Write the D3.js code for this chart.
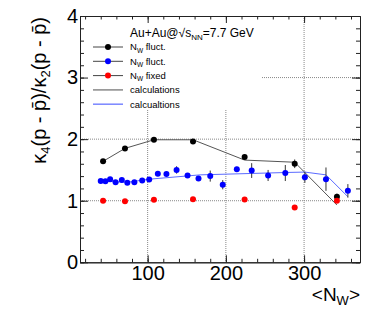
<!DOCTYPE html>
<html>
<head>
<meta charset="utf-8">
<script src="https://cdn.jsdelivr.net/npm/d3@7"></script>
<style>
  body { margin: 0; background: #fff; }
  text { font-family: "Liberation Sans", Arial, sans-serif; fill: #000; }
</style>
</head>
<body>
<div id="okvir"></div>
<script>
// 1. Podaci (ocitano sa slike)

const xTickovi = [100, 200, 300]
const yTickovi = [0, 1, 2, 3, 4]

// N_W fluct. (crni)
const crniN = [43, 71, 108, 158, 224, 288, 342]
const crniK = [1.64, 1.85, 1.99, 1.96, 1.71, 1.60, 1.065]
const crniErr = [0.02, 0.02, 0.02, 0.02, 0.03, 0.07, 0.05]

// N_W fluct. (plavi)
const plaviN = [40, 46, 52, 59, 67, 74, 83, 93, 102, 113, 124, 137, 151, 165, 180, 196, 214, 233, 254, 276, 301, 328, 356]
const plaviK = [1.32, 1.315, 1.35, 1.30, 1.335, 1.29, 1.30, 1.33, 1.345, 1.44, 1.435, 1.50, 1.41, 1.36, 1.40, 1.26, 1.51, 1.49, 1.41, 1.45, 1.38, 1.35, 1.16]
const plaviErr = [0.02, 0.02, 0.02, 0.02, 0.02, 0.02, 0.02, 0.02, 0.02, 0.03, 0.03, 0.06, 0.03, 0.04, 0.09, 0.075, 0.04, 0.12, 0.09, 0.13, 0.09, 0.19, 0.11]

// N_W fixed (crveni)
const crveniN = [43, 71, 108, 158, 224, 288, 342]
const crveniK = [1.0, 0.99, 1.015, 1.025, 1.02, 0.89, 1.0]

// calculations
const racunCrniN = [43, 71, 108, 158, 224, 288, 342]
const racunCrniK = [1.64, 1.85, 1.99, 1.99, 1.66, 1.625, 0.93]
const racunPlaviN = [40, 74, 102, 167, 282, 301, 328, 356]
const racunPlaviK = [1.32, 1.30, 1.35, 1.42, 1.46, 1.465, 1.42, 1.065]

const legendaNaslov = "Au+Au@"
const legendaOznake = ["fluct.", "fluct.", "fixed", "calculations", "calcualtions"]

// 2. Dimenzije

const dimenzije = {
  sirina: 374,
  visina: 317,
  lijevo: 80,
  desno: 360,
  gore: 16,
  dolje: 262.3,
}

const okvir = d3.select("#okvir")
  .append("svg")
    .attr("width", dimenzije.sirina)
    .attr("height", dimenzije.visina)

// 3. Skale

const xSkala = d3.scaleLinear()
  .domain([13.5, 371.5])
  .range([dimenzije.lijevo, dimenzije.desno])

const ySkala = d3.scaleLinear()
  .domain([0, 4])
  .range([dimenzije.dolje, dimenzije.gore])

// 4. Mreza (tockasta)

const mreza = okvir.append("g")
  .attr("stroke", "#888")
  .attr("stroke-width", 1)
  .attr("stroke-dasharray", "1,1")

mreza.selectAll(".hor")
  .data([1, 2, 3])
  .join("line")
    .attr("x1", dimenzije.lijevo)
    .attr("x2", dimenzije.desno)
    .attr("y1", d => ySkala(d))
    .attr("y2", d => ySkala(d))

mreza.selectAll(".ver")
  .data(xTickovi)
  .join("line")
    .attr("x1", d => xSkala(d))
    .attr("x2", d => xSkala(d))
    .attr("y1", dimenzije.gore)
    .attr("y2", dimenzije.dolje)

// legenda prekriva mrezu
okvir.append("rect")
  .attr("x", dimenzije.lijevo + 1)
  .attr("y", dimenzije.gore + 1)
  .attr("width", 181)
  .attr("height", 93)
  .attr("fill", "#fff")

// 5. Linije racuna

const generatorLinije = d3.line()
  .x(d => xSkala(d[0]))
  .y(d => ySkala(d[1]))

okvir.append("path")
  .attr("d", generatorLinije(d3.zip(racunCrniN, racunCrniK)))
  .attr("fill", "none")
  .attr("stroke", "#555")
  .attr("stroke-width", 1)

okvir.append("path")
  .attr("d", generatorLinije(d3.zip(racunPlaviN, racunPlaviK)))
  .attr("fill", "none")
  .attr("stroke", "#5b6bff")
  .attr("stroke-width", 1)

// 6. Tocke s greskama

function crtajSeriju(nizN, nizK, nizErr, boja) {
  const podaci = nizN.map((n, i) => ({ n, k: nizK[i], e: nizErr ? nizErr[i] : 0 }))
  const g = okvir.append("g")
  g.selectAll("line")
    .data(podaci.filter(d => d.e > 0))
    .join("line")
      .attr("x1", d => xSkala(d.n))
      .attr("x2", d => xSkala(d.n))
      .attr("y1", d => ySkala(d.k - d.e))
      .attr("y2", d => ySkala(d.k + d.e))
      .attr("stroke", "#333")
      .attr("stroke-width", 1)
  g.selectAll("circle")
    .data(podaci)
    .join("circle")
      .attr("cx", d => xSkala(d.n))
      .attr("cy", d => ySkala(d.k))
      .attr("r", 3)
      .attr("fill", boja)
}

crtajSeriju(crniN, crniK, crniErr, "#000")
crtajSeriju(plaviN, plaviK, plaviErr, "#0000ff")
crtajSeriju(crveniN, crveniK, null, "#ff0000")

// 7. Osi (ticks prema unutra)

function stilOsi(g) {
  g.selectAll("path, line").attr("stroke", "#222")
  g.selectAll("text")
    .attr("font-family", "Liberation Sans, Arial, sans-serif")
    .attr("font-size", 20)
    .attr("fill", "#000")
}

const manjiX = d3.range(20, 371, 20)
const manjiY = d3.range(0, 4.001, 0.2)
const cijeli = d3.format("d")

okvir.append("g")
  .attr("transform", `translate(0,${dimenzije.dolje})`)
  .call(d3.axisBottom(xSkala).tickValues(manjiX).tickSize(-3.5).tickSizeOuter(0).tickFormat(""))
  .call(stilOsi)
okvir.append("g")
  .attr("transform", `translate(0,${dimenzije.dolje})`)
  .call(d3.axisBottom(xSkala).tickValues(xTickovi).tickSize(-7).tickSizeOuter(0).tickPadding(4).tickFormat(cijeli))
  .call(stilOsi)

okvir.append("g")
  .attr("transform", `translate(0,${dimenzije.gore})`)
  .call(d3.axisTop(xSkala).tickValues(manjiX).tickSize(-3.5).tickSizeOuter(0).tickFormat(""))
  .call(stilOsi)
okvir.append("g")
  .attr("transform", `translate(0,${dimenzije.gore})`)
  .call(d3.axisTop(xSkala).tickValues(xTickovi).tickSize(-7).tickSizeOuter(0).tickFormat(""))
  .call(stilOsi)

okvir.append("g")
  .attr("transform", `translate(${dimenzije.lijevo},0)`)
  .call(d3.axisLeft(ySkala).tickValues(manjiY).tickSize(-4).tickSizeOuter(0).tickFormat(""))
  .call(stilOsi)
okvir.append("g")
  .attr("transform", `translate(${dimenzije.lijevo},0)`)
  .call(d3.axisLeft(ySkala).tickValues(yTickovi).tickSize(-8).tickSizeOuter(0).tickPadding(2).tickFormat(cijeli))
  .call(stilOsi)

okvir.append("g")
  .attr("transform", `translate(${dimenzije.desno},0)`)
  .call(d3.axisRight(ySkala).tickValues(manjiY).tickSize(-4).tickSizeOuter(0).tickFormat(""))
  .call(stilOsi)
okvir.append("g")
  .attr("transform", `translate(${dimenzije.desno},0)`)
  .call(d3.axisRight(ySkala).tickValues(yTickovi).tickSize(-8).tickSizeOuter(0).tickFormat(""))
  .call(stilOsi)

// 8. Naslovi osi

const xNaslov = okvir.append("text")
  .attr("x", dimenzije.desno)
  .attr("y", 301)
  .attr("text-anchor", "end")
  .attr("font-size", 19)
xNaslov.append("tspan").text("<N")
xNaslov.append("tspan").attr("font-size", 13).attr("dy", 4).text("W")
xNaslov.append("tspan").attr("dy", -4).text(">")

const yNaslov = okvir.append("text")
  .attr("transform", `translate(46,${dimenzije.gore + 1}) rotate(-90)`)
  .attr("text-anchor", "end")
  .attr("font-size", 20)
yNaslov.append("tspan").text("\u03BA")
yNaslov.append("tspan").attr("font-size", 13).attr("dy", 4).text("4")
yNaslov.append("tspan").attr("dy", -4).text("(p - p\u0304)/\u03BA")
yNaslov.append("tspan").attr("font-size", 13).attr("dy", 4).text("2")
yNaslov.append("tspan").attr("dy", -4).text("(p - p\u0304)")

// 9. Legenda

const legenda = okvir.append("g")

const naslov = legenda.append("text")
  .attr("x", 130)
  .attr("y", 37)
  .attr("font-size", 12)
naslov.append("tspan").text(legendaNaslov + "\u221As")
naslov.append("tspan").attr("font-size", 8).attr("dy", 3).text("NN")
naslov.append("tspan").attr("dy", -3).text("=7.7 GeV")

const legendaBoje = ["#000", "#0000ff", "#ff0000", null, null]
const legendaLinije = ["#444", "#444", "#444", "#888", "#7a86ff"]

legendaOznake.forEach((oznaka, i) => {
  const y = 47 + i * 14.3
  legenda.append("line")
    .attr("x1", 93).attr("x2", 123)
    .attr("y1", y).attr("y2", y)
    .attr("stroke", legendaLinije[i])
    .attr("stroke-width", i > 2 ? 1.5 : 1)
  if (legendaBoje[i]) {
    legenda.append("circle")
      .attr("cx", 108).attr("cy", y).attr("r", 3)
      .attr("fill", legendaBoje[i])
  }
  const t = legenda.append("text")
    .attr("x", 130)
    .attr("y", y)
    .attr("dy", "0.35em")
    .attr("font-size", 9.5)
  if (i < 3) {
    t.append("tspan").text("N")
    t.append("tspan").attr("font-size", 6.5).attr("dy", 2.5).text("W")
    t.append("tspan").attr("dy", -2.5).text(" " + oznaka)
  } else {
    t.text(oznaka)
  }
})
</script>
</body>
</html>
